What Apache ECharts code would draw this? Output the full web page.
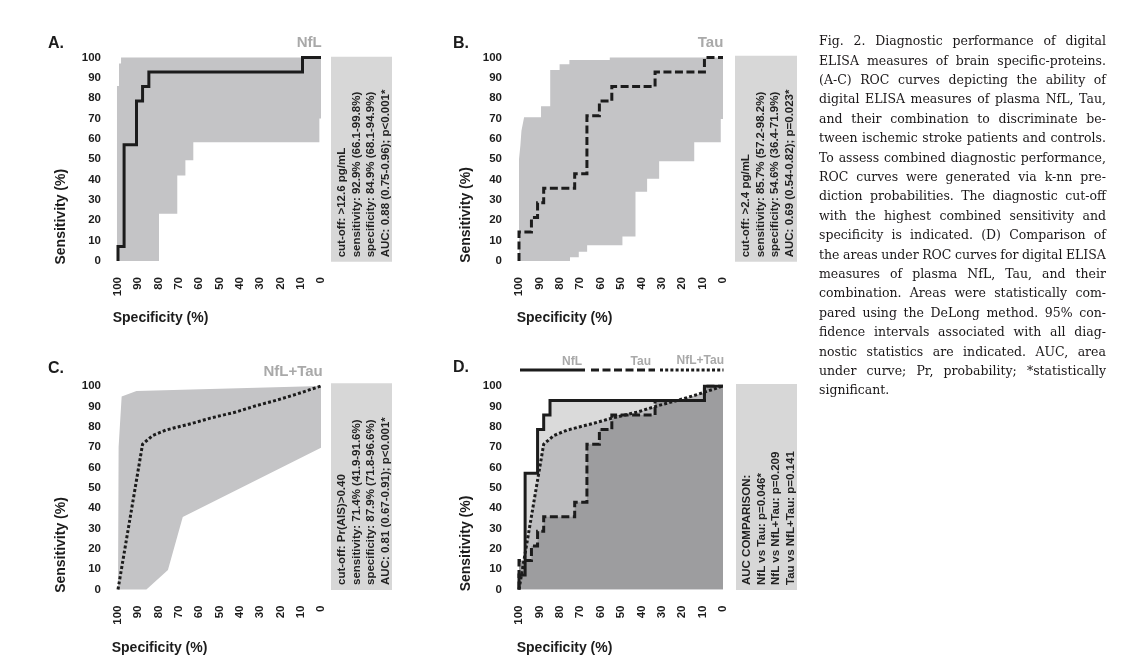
<!DOCTYPE html>
<html><head><meta charset="utf-8">
<script src="https://cdn.jsdelivr.net/npm/echarts@6.0.0/dist/echarts.min.js"></script>
<style>
html,body{margin:0;padding:0;background:#fff;}
#chart{position:absolute;left:0;top:0;width:1132px;height:669px;}
#caption{position:absolute;left:819px;top:31.3px;width:287px;font-family:'DejaVu Serif',serif;font-size:12.5px;color:#1a1718;}
#caption .ln{display:flex;justify-content:space-between;height:19.4px;line-height:19.4px;white-space:nowrap;}
#caption .ln.last{justify-content:flex-start;}
</style></head><body>
<div id="chart"></div><div id="caption"></div>
<script>
// ---------- data (specificity %, sensitivity %) ----------
const ticks = [0,10,20,30,40,50,60,70,80,90,100];

const nflSpec = [100,100,97.0,97.0,90.9,90.9,87.9,87.9,84.8,84.8,9.1,9.1,0];
const nflSens = [0,7.1,7.1,57.1,57.1,78.6,78.6,85.7,85.7,92.9,92.9,100,100];

const tauSpec = [100,100,93.9,93.9,90.9,90.9,87.9,87.9,72.7,72.7,66.7,66.7,60.6,60.6,54.5,54.5,33.3,33.3,9.1,9.1,0];
const tauSens = [0,14.3,14.3,21.4,21.4,28.6,28.6,35.7,35.7,42.9,42.9,71.4,71.4,78.6,78.6,85.7,85.7,92.9,92.9,100,100];

const comboSpec = [100,87.9,83,76.5,70,64,54.5,42,32,22,12,0];
const comboSens = [0,71.4,75.6,78.3,80,81.5,84.2,87.2,90.3,93,96,100];

// 95% CI bands (polygon outlines)
const nflCiSpec = [100.5,100.5,99.5,99.5,98.5,98.5,0,0,0.8,0.8,62.9,62.9,66.8,66.8,70.8,70.8,79.8,79.8];
const nflCiSens = [0,86,86,97,97,100,100,70,70,58.4,58.4,49.5,49.5,42,42,23.2,23.2,0];

const tauCiSpec = [100,100,99.3,98.8,97.5,89.2,89.2,84.7,84.7,80.1,80.1,75.3,75.3,55.5,55.5,0,0,1.1,1.1,14.1,14.1,31.3,31.3,37.2,37.2,42.9,42.9,49.3,49.3,66.6,66.6,70.7,70.7,75,75];
const tauCiSens = [0,50,57,64,70.6,70.6,76,76,93.8,93.8,96.7,96.7,98.8,98.8,100,100,69.8,69.8,58.4,58.4,49,49,40.4,40.4,34,34,12,12,7.8,7.8,4.6,4.6,1.8,1.8,0];

const comboCiSpec = [100,99.7,98.2,90.9,0,0,68.1,75.4,86];
const comboCiSens = [0,70,94.8,97.6,100,69.6,35.6,9.6,0];

const statsA = ['cut-off: >12.6 pg/mL','sensitivity: 92.9% (66.1-99.8%)','specificity: 84.9% (68.1-94.9%)','AUC: 0.88 (0.75-0.96); p<0.001*'];
const statsB = ['cut-off: >2.4 pg/mL','sensitivity: 85.7% (57.2-98.2%)','specificity: 54.6% (36.4-71.9%)','AUC: 0.69 (0.54-0.82); p=0.023*'];
const statsC = ['cut-off: Pr(AIS)>0.40','sensitivity: 71.4% (41.9-91.6%)','specificity: 87.9% (71.8-96.6%)','AUC: 0.81 (0.67-0.91); p<0.001*'];
const statsD = ['AUC COMPARISON:','NfL vs Tau: p=0.046*','NfL vs NfL+Tau: p=0.209','Tau vs NfL+Tau: p=0.141'];

const captionLines = [
 'Fig. 2. Diagnostic performance of digital',
 'ELISA measures of brain specific-proteins.',
 '(A-C) ROC curves depicting the ability of',
 'digital ELISA measures of plasma NfL, Tau,',
 'and their combination to discriminate be-',
 'tween ischemic stroke patients and controls.',
 'To assess combined diagnostic performance,',
 'ROC curves were generated via k-nn pre-',
 'diction probabilities. The diagnostic cut-off',
 'with the highest combined sensitivity and',
 'specificity is indicated. (D) Comparison of',
 'the areas under ROC curves for digital ELISA',
 'measures of plasma NfL, Tau, and their',
 'combination. Areas were statistically com-',
 'pared using the DeLong method. 95% con-',
 'fidence intervals associated with all diag-',
 'nostic statistics are indicated. AUC, area',
 'under curve; Pr, probability; *statistically',
 'significant.'
];

// ---------- helpers ----------
const FONT = "'Liberation Sans', Arial, sans-serif";
const INK = '#1c1c1c';
const zip = (a,b) => a.map((v,i)=>[v,b[i]]);

function xAx(g){return {type:'value',gridIndex:g,min:ticks[0],max:ticks[ticks.length-1],interval:10,inverse:true,
  axisLine:{show:false},axisTick:{show:false},splitLine:{show:false},
  axisLabel:{rotate:90,margin:16,fontSize:11.5,fontWeight:'bold',color:INK,fontFamily:FONT}};}
function yAx(g){return {type:'value',gridIndex:g,min:ticks[0],max:ticks[ticks.length-1],interval:10,
  axisLine:{show:false},axisTick:{show:false},splitLine:{show:false},
  axisLabel:{margin:17,fontSize:11.5,fontWeight:'bold',color:INK,fontFamily:FONT}};}

function band(g, sx, sy, color){
  const pts = zip(sx, sy);
  return {type:'custom', xAxisIndex:g, yAxisIndex:g, data:pts, encode:{x:0,y:1}, silent:true, z:1,
    renderItem:(params, api)=>{
      if(params.dataIndex!==0) return null;
      return {type:'polygon', shape:{points:pts.map(p=>api.coord(p))}, style:{fill:color}};
    }};
}
function line(g, sx, sy, dash){
  return {type:'line', xAxisIndex:g, yAxisIndex:g, data:zip(sx,sy), showSymbol:false, symbol:'none', z:5, silent:true,
    lineStyle:{color:INK, width:3, type:dash, cap:'butt', join:'miter'}};
}
function area(g, sx, sy, color, z){
  return {type:'line', xAxisIndex:g, yAxisIndex:g, data:zip(sx,sy), showSymbol:false, symbol:'none', z:z, silent:true,
    lineStyle:{width:0,opacity:0}, areaStyle:{color:color, opacity:1}};
}
const DASH = [8,3.5], DOT = [3,2.2];

// ---------- graphic (text, boxes, legend) ----------
const G = [];
function txt(x,y,t,font,fill,align,valign,rot){
  G.push({type:'text', x:x, y:y, rotation:rot||0, silent:true,
    style:{text:t, font:font, fill:fill, align:align||'left', verticalAlign:valign||'middle'}});
}
const BOLD16 = "bold 16px "+FONT, BOLD15 = "bold 15px "+FONT, BOLD14 = "bold 14px "+FONT, BOLD12="bold 12px "+FONT, STAT="bold 11.5px "+FONT;
const TITLE_GRAY = '#a9a9a9';

// panel letters
txt(48,44,'A.',BOLD16,INK); txt(453,44,'B.',BOLD16,INK);
txt(48,368.5,'C.',BOLD16,INK); txt(453,367.5,'D.',BOLD16,INK);
// panel titles
txt(321.7,43.3,'NfL',BOLD15,TITLE_GRAY,'right');
txt(723.3,43.3,'Tau',BOLD15,TITLE_GRAY,'right');
txt(322.7,371.7,'NfL+Tau',BOLD15,TITLE_GRAY,'right');
// axis titles
[[60.7,216.7],[465.7,215],[60.7,545],[465.7,543.5]].forEach(p=>txt(p[0],p[1],'Sensitivity (%)',BOLD14,INK,'center','middle',Math.PI/2));
[[112.7,318.3],[516.7,317.7],[111.7,647.7],[516.7,647.7]].forEach(p=>txt(p[0],p[1],'Specificity (%)',BOLD14,INK,'left','middle'));
// stats boxes
function statBox(x,y,w,h,lines,lx,by){
  G.push({type:'rect', silent:true, shape:{x:x,y:y,width:w,height:h}, style:{fill:'#d7d7d7'}});
  lines.forEach((t,i)=>txt(lx[i],by,t,STAT,'#222','left','middle',Math.PI/2));
}
statBox(331,56.7,61,205,statsA,[341.7,356.4,371,385.5],257.3);
statBox(735,55.7,62,206,statsB,[745.7,760.4,775,789.5],257.3);
statBox(331,383.3,61,206.7,statsC,[341.7,356.4,371,385.5],585);
statBox(736,384,61,206,statsD,[747,761.5,776,790.5],585);
// legend for D
G.push({type:'line',silent:true,shape:{x1:520,y1:370,x2:585,y2:370},style:{stroke:INK,lineWidth:3}});
G.push({type:'line',silent:true,shape:{x1:591,y1:370,x2:655,y2:370},style:{stroke:INK,lineWidth:3,lineDash:DASH}});
G.push({type:'line',silent:true,shape:{x1:660,y1:370,x2:723.5,y2:370},style:{stroke:INK,lineWidth:3,lineDash:DOT}});
txt(582,361.5,'NfL',BOLD12,TITLE_GRAY,'right');
txt(651,361.5,'Tau',BOLD12,TITLE_GRAY,'right');
txt(724,360.5,'NfL+Tau',BOLD12,TITLE_GRAY,'right');

// ---------- chart ----------
const chart = echarts.init(document.getElementById('chart'), null, {renderer:'canvas'});
chart.setOption({
  animation:false,
  backgroundColor:'#ffffff',
  grid:[
    {left:118, top:57.5, width:203, height:203.5},
    {left:519, top:57.5, width:204, height:203.5},
    {left:118, top:386,  width:203, height:203.5},
    {left:519, top:386,  width:204, height:203.5}
  ],
  xAxis:[xAx(0),xAx(1),xAx(2),xAx(3)],
  yAxis:[yAx(0),yAx(1),yAx(2),yAx(3)],
  series:[
    band(0,nflCiSpec,nflCiSens,'#c4c4c6'),
    line(0,nflSpec,nflSens,'solid'),
    band(1,tauCiSpec,tauCiSens,'#c4c4c6'),
    line(1,tauSpec,tauSens,DASH),
    band(2,comboCiSpec,comboCiSens,'#c4c4c6'),
    line(2,comboSpec,comboSens,DOT),
    area(3,nflSpec,nflSens,'#dadada',1),
    area(3,comboSpec,comboSens,'#bdbdbf',2),
    area(3,tauSpec,tauSens,'#9d9d9f',3),
    line(3,nflSpec,nflSens,'solid'),
    line(3,tauSpec,tauSens,DASH),
    line(3,comboSpec,comboSens,DOT)
  ],
  graphic:G
});

// ---------- caption ----------
const cap = document.getElementById('caption');
captionLines.forEach((l,i)=>{
  const d = document.createElement('div');
  d.className = 'ln' + (i===captionLines.length-1 ? ' last' : '');
  l.split(' ').forEach((w,j)=>{
    const s = document.createElement('span');
    s.textContent = w;
    if(i===captionLines.length-1 && j>0) s.style.marginLeft='0.3em';
    d.appendChild(s);
  });
  cap.appendChild(d);
});
</script></body></html>
